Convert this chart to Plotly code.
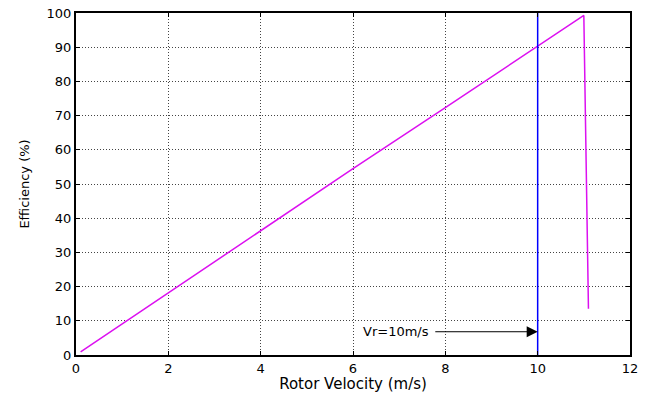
import plotly.graph_objects as go

# Data
velocity = [0.1, 2, 4, 6, 8, 10, 11, 11.1]
efficiency = [0.9, 18.2, 36.2, 54.5, 72.3, 90.2, 99.3, 13.5]
rated_velocity = 10
rated_line_y = [0, 100]
x_ticks = [0, 2, 4, 6, 8, 10, 12]
y_ticks = [0, 10, 20, 30, 40, 50, 60, 70, 80, 90, 100]
arrow_label = "Vr=10m/s"
arrow_y = 6.8
arrow_start_x = 7.75
label_end_x = 7.68

FONT = "DejaVu Sans, Liberation Sans, Arial"

fig = go.Figure()
fig.add_trace(go.Scatter(x=velocity, y=efficiency, mode="lines",
                         line=dict(color="#dc10f0", width=1.5), showlegend=False))
fig.add_trace(go.Scatter(x=[rated_velocity, rated_velocity], y=rated_line_y, mode="lines",
                         line=dict(color="#0000ff", width=1.5), showlegend=False))

fig.add_annotation(x=rated_velocity, y=arrow_y, ax=arrow_start_x, ay=arrow_y,
                   xref="x", yref="y", axref="x", ayref="y",
                   showarrow=True, arrowhead=2, arrowsize=2.2, arrowwidth=1,
                   arrowcolor="black", text="", standoff=0)
fig.add_annotation(x=label_end_x, y=arrow_y, xref="x", yref="y", text=arrow_label,
                   showarrow=False, xanchor="right",
                   font=dict(family=FONT, size=13, color="black"))

axis_common = dict(showline=True, linecolor="black", linewidth=2, mirror="ticks",
                   ticks="inside", ticklen=4, tickcolor="black",
                   showgrid=True, gridcolor="#444444", griddash="1px,2px", gridwidth=1,
                   zeroline=False, automargin=False,
                   tickfont=dict(family=FONT, size=13, color="black"))

fig.update_xaxes(range=[0, 12], tickvals=x_ticks, title_text="Rotor Velocity (m/s)",
                 title_standoff=3, title_font=dict(family=FONT, size=15, color="black"),
                 **axis_common)
fig.update_yaxes(range=[0, 100], tickvals=y_ticks, title_text="Efficiency (%)",
                 title_standoff=14, title_font=dict(family=FONT, size=13, color="black"),
                 **axis_common)

fig.update_layout(width=646, height=393, margin=dict(l=76, r=16, t=13, b=38),
                  paper_bgcolor="white", plot_bgcolor="white")

fig.write_html("out.html", config={"displayModeBar": False},
               post_script="document.body.style.margin='0';document.body.style.padding='0';")
